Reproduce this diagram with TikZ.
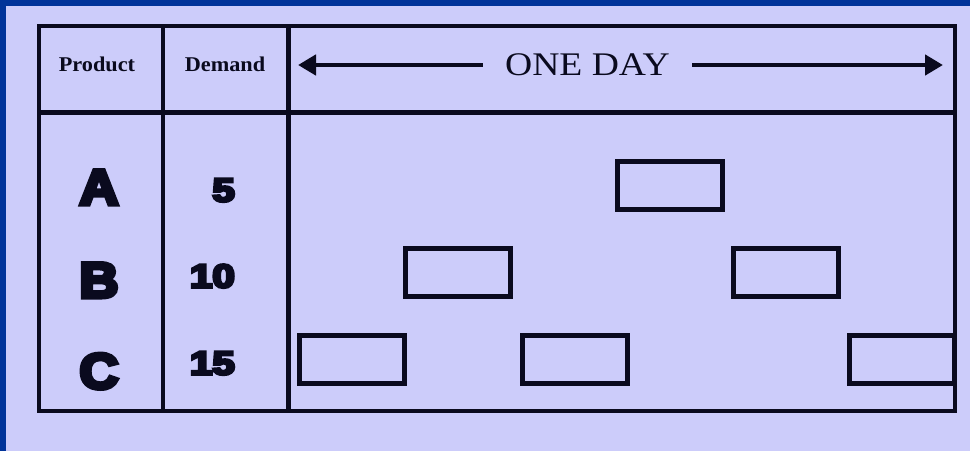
\documentclass[tikz,border=0pt]{standalone}
\usepackage{fontspec}
\setmainfont{Liberation Serif}
\newfontfamily\heavy{Liberation Sans}[BoldFeatures={FakeBold=8}]
\usetikzlibrary{arrows.meta}
\definecolor{bg}{HTML}{CCCCFA}
\definecolor{frame}{HTML}{003399}
\definecolor{ink}{HTML}{0A0A1E}
\tikzset{
  grid/.style={draw=ink, line width=4.5pt},
  slot/.style={draw=ink, line width=5pt, minimum width=105pt, minimum height=48pt, inner sep=0pt},
  hdr/.style={anchor=base, inner sep=0pt, text=ink, font=\fontsize{21}{25}\selectfont\bfseries},
  prod/.style={anchor=base, inner sep=0pt, text=ink, font=\fontsize{50}{55}\selectfont\heavy\bfseries},
  dem/.style={anchor=base east, inner sep=0pt, text=ink, font=\fontsize{33}{36}\selectfont\heavy\bfseries},
  span/.style={line width=4.5pt, draw=ink, -{Triangle[length=18pt,width=20pt]}}
}
\begin{document}
\begin{tikzpicture}[x=1pt,y=-1pt]
\useasboundingbox (0,0) rectangle (970,451);
\fill[bg] (0,0) rectangle (970,451);
\fill[frame] (0,0) rectangle (970,5.5);
\fill[frame] (0,0) rectangle (6,451);
% table
\draw[grid] (39,26) rectangle (955,411);
\draw[grid] (39,112.5) -- (955,112.5);
\draw[grid] (163,26) -- (163,411);
\draw[grid] (288.5,26) -- (288.5,411);
% header
\node[hdr] (hprod) at (97,71) {\scalebox{1.06}[1]{Product}};
\node[hdr] (hdem) at (225,71) {\scalebox{1.06}[1]{Demand}};
\node[anchor=base, inner sep=0pt, inner xsep=22pt, text=ink, font=\fontsize{33}{36}\selectfont] (day) at (587.5,75) {\scalebox{1.14}[1]{ONE DAY}};
\coordinate (lt) at (298,65);
\coordinate (rt) at (943,65);
\draw[span] (day.west |- lt) -- (lt);
\draw[span] (day.east |- rt) -- (rt);
% rows
\node[prod] (pa) at (99,204.5) {\scalebox{1.08}[1]{A}};
\node[prod] (pb) at (99,297.5) {\scalebox{1.08}[1]{B}};
\node[prod] (pc) at (99,388.5) {\scalebox{1.08}[1]{C}};
\node[dem] (da) at (235,201.5) {\scalebox{1.22}[1]{5}};
\node[dem] (db) at (235,287.5) {\scalebox{1.22}[1]{10}};
\node[dem] (dc) at (235,374.5) {\scalebox{1.22}[1]{15}};
% slots
\node[slot] (a1) at (670,185) {};
\node[slot] (b1) at (458,272) {};
\node[slot] (b2) at (786,272) {};
\node[slot] (c1) at (351.5,359) {};
\node[slot] (c2) at (574.5,359) {};
\node[slot] (c3) at (902,359) {};
\end{tikzpicture}
\end{document}
